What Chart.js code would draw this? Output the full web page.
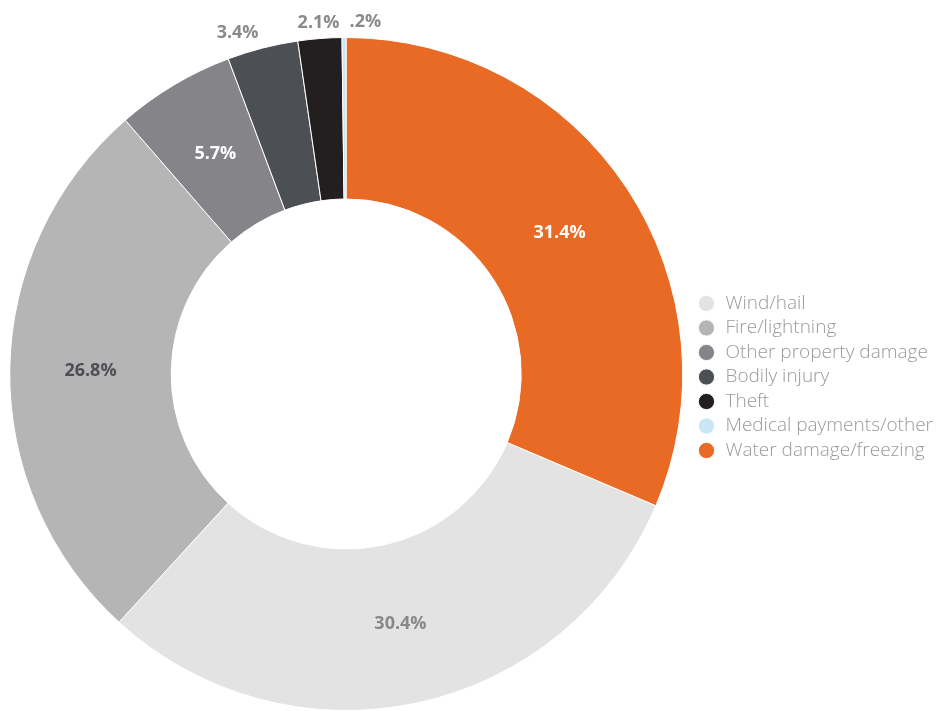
<!DOCTYPE html>
<html>
<head>
<meta charset="utf-8">
<script src="https://cdn.jsdelivr.net/npm/chart.js@4.4.1/dist/chart.umd.min.js"></script>
<style>
  html, body { margin: 0; padding: 0; background: #fff; }
  #wrap { width: 936px; height: 711px; position: relative; }
</style>
</head>
<body>
<div id="wrap"><canvas id="claimsChart"></canvas></div>
<script>
// Share of claims by cause (percent)
const categories = ['Wind/hail', 'Fire/lightning', 'Other property damage', 'Bodily injury', 'Theft', 'Medical payments/other', 'Water damage/freezing'];
const shares = [30.4, 26.8, 5.7, 3.4, 2.1, 0.2, 31.4];

const sliceColors = ['#e3e3e3', '#b5b5b6', '#858589', '#4c4f54', '#231f20', '#c9e6f6', '#e86a25'];
const labelColors = ['#88888b', '#4d4f54', '#ffffff', '#8a8a8d', '#8a8a8d', '#8a8a8d', '#ffffff'];

function fmtShare(v) {
    return (v < 1 ? String(v).replace(/^0/, '') : v.toFixed(1)) + '%';
}

// Draw the percent labels: inside big slices, just outside the small ones
const sliceLabels = {
    id: 'sliceLabels',
    afterDatasetsDraw(chart) {
        const ctx = chart.ctx;
        const meta = chart.getDatasetMeta(0);
        const values = chart.data.datasets[0].data;
        ctx.save();
        ctx.font = 'bold 18px "Open Sans", sans-serif';
        ctx.textBaseline = 'middle';
        let lastRight = -Infinity;
        meta.data.forEach((arc, i) => {
            const p = arc.getProps(['x', 'y', 'startAngle', 'endAngle', 'innerRadius', 'outerRadius'], true);
            const mid = (p.startAngle + p.endAngle) / 2;
            const text = fmtShare(values[i]);
            ctx.fillStyle = labelColors[i];
            if (values[i] >= 5) {
                const r = (p.innerRadius + p.outerRadius) / 2;
                ctx.textAlign = 'center';
                ctx.fillText(text, p.x + Math.cos(mid) * r, p.y + Math.sin(mid) * r);
            } else {
                const r = p.outerRadius + 16;
                let x = p.x + Math.cos(mid) * r;
                const y = p.y + Math.sin(mid) * r;
                const w = ctx.measureText(text).width;
                let left = Math.cos(mid) < -0.15 ? x - w : x - w / 2;
                if (left < lastRight + 10) left = lastRight + 10;
                ctx.textAlign = 'left';
                ctx.fillText(text, left, y);
                lastRight = left + w;
            }
        });
        ctx.restore();
    }
};

const claimsCtx = document.getElementById('claimsChart').getContext('2d');

const claimsChart = new Chart(claimsCtx, {
    type: 'doughnut',
    data: {
        labels: categories,
        datasets: [{
            data: shares,
            backgroundColor: sliceColors,
            borderColor: '#ffffff',
            borderWidth: 1
        }]
    },
    options: {
        responsive: true,
        maintainAspectRatio: false,
        animation: false,
        cutout: '52%',
        rotation: shares[shares.length - 1] * 3.6,
        layout: {
            padding: { top: 37, left: 1, right: -7, bottom: -6 }
        },
        plugins: {
            legend: {
                position: 'right',
                align: 'center',
                labels: {
                    usePointStyle: true,
                    pointStyle: 'circle',
                    boxWidth: 19,
                    boxHeight: 11.5,
                    padding: 5.5,
                    color: '#9a9a9a',
                    font: { family: '"Open Sans", sans-serif', size: 19, weight: '300' }
                }
            },
            tooltip: { enabled: false }
        }
    },
    plugins: [sliceLabels]
});
</script>
</body>
</html>
